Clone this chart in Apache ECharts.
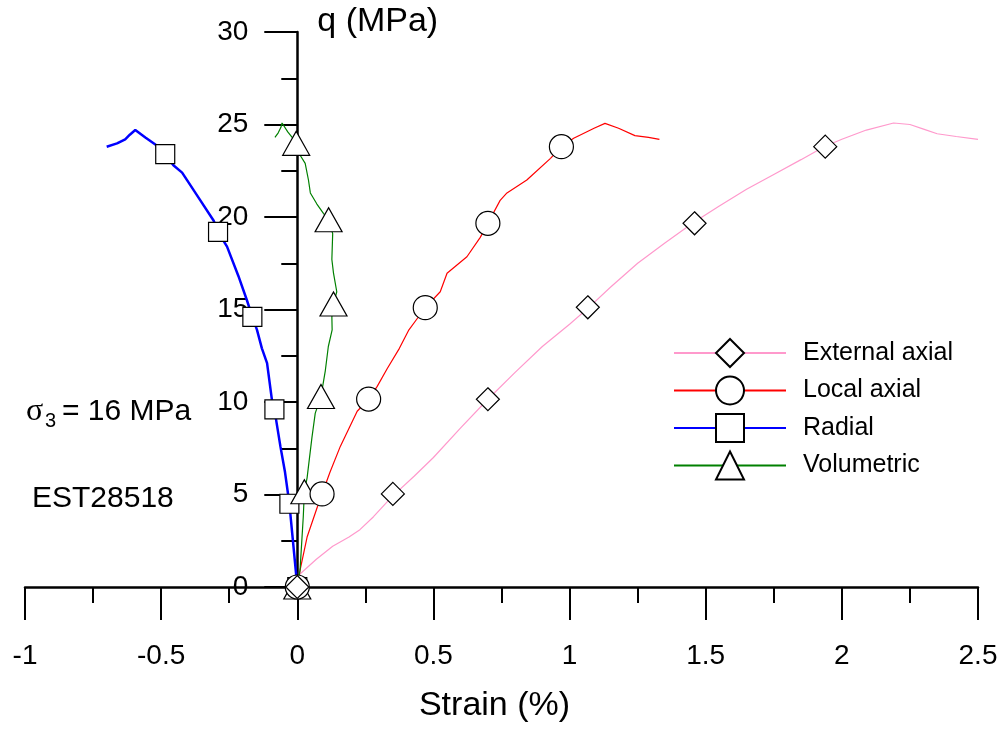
<!DOCTYPE html>
<html>
<head>
<meta charset="utf-8">
<script src="https://cdn.jsdelivr.net/npm/echarts@6.0.0/dist/echarts.min.js"></script>
<style>
  html, body { margin: 0; padding: 0; background: #ffffff; }
  #chart { width: 1005px; height: 731px; }
</style>
</head>
<body>
<div id="chart"></div>
<script>
// Deviatoric stress q (MPa) against strain (%) for sample EST28518, sigma3 = 16 MPa

const seriesNames = ['External axial', 'Local axial', 'Radial', 'Volumetric'];

// axis tick values
const xTicks = [-1, -0.5, 0, 0.5, 1, 1.5, 2, 2.5];
const yTicks = [0, 5, 10, 15, 20, 25, 30];

// measured curves: [strain %, q MPa]
const externalAxial = [
  [0, 0], [0.01, 0.7], [0.07, 1.5], [0.13, 2.2], [0.19, 2.7], [0.23, 3.1], [0.28, 3.8],
  [0.33, 4.6], [0.36, 5.05], [0.43, 6.0], [0.5, 7.0], [0.6, 8.6], [0.7, 10.15], [0.8, 11.6],
  [0.9, 13.0], [1.0, 14.2], [1.07, 15.1], [1.15, 16.2], [1.25, 17.5], [1.35, 18.6],
  [1.455, 19.7], [1.55, 20.6], [1.65, 21.5], [1.75, 22.3], [1.85, 23.1], [1.935, 23.8],
  [2.0, 24.2], [2.09, 24.7], [2.19, 25.08], [2.25, 25.0], [2.3, 24.75], [2.35, 24.5],
  [2.42, 24.35], [2.5, 24.2]
];
const localAxial = [
  [0, 0], [0.01, 0.9], [0.036, 2.7], [0.073, 4.3], [0.091, 5.03], [0.12, 6.2], [0.158, 7.6],
  [0.22, 9.5], [0.262, 10.16], [0.293, 10.83], [0.33, 11.8], [0.375, 12.9], [0.41, 13.9],
  [0.44, 14.5], [0.47, 15.1], [0.525, 15.96], [0.55, 16.96], [0.623, 17.85], [0.672, 18.9],
  [0.70, 19.66], [0.745, 20.9], [0.77, 21.3], [0.843, 22.0], [0.93, 23.17], [0.97, 23.8],
  [1.015, 24.26], [1.09, 24.8], [1.13, 25.06], [1.18, 24.8], [1.24, 24.4], [1.29, 24.3],
  [1.33, 24.2]
];
const radial = [
  [0, 0], [-0.005, 0.8], [-0.018, 2.8], [-0.029, 4.5], [-0.045, 6.2], [-0.062, 7.6],
  [-0.084, 9.6], [-0.093, 10.1], [-0.111, 12.1], [-0.13, 12.9], [-0.148, 13.9],
  [-0.165, 14.6], [-0.185, 15.5], [-0.216, 16.8], [-0.258, 18.4], [-0.291, 19.2],
  [-0.307, 19.8], [-0.356, 20.9], [-0.423, 22.4], [-0.455, 22.8], [-0.485, 23.4],
  [-0.52, 23.9], [-0.558, 24.3], [-0.595, 24.7], [-0.615, 24.45], [-0.632, 24.2],
  [-0.662, 23.98], [-0.70, 23.8]
];
const volumetric = [
  [0, 0], [0.01, 0.9], [0.022, 3.8], [0.026, 5.15], [0.036, 5.9], [0.054, 8.1], [0.066, 9.4],
  [0.087, 10.3], [0.103, 11.7], [0.114, 13.0], [0.128, 13.9], [0.127, 14.6], [0.133, 15.3],
  [0.145, 15.96], [0.133, 16.97], [0.127, 17.7], [0.13, 19.1], [0.115, 19.85], [0.096, 20.2],
  [0.072, 20.7], [0.048, 21.3], [0.041, 22.0], [0.029, 22.9], [0.01, 23.35], [-0.004, 23.98],
  [-0.013, 24.2], [-0.035, 24.6], [-0.056, 25.08], [-0.06, 24.85], [-0.07, 24.55], [-0.082, 24.3]
];

// marker positions along each curve
const externalAxialMarks = [[0, 0], [0.351, 5.03], [0.70, 10.15], [1.067, 15.12], [1.459, 19.66], [1.939, 23.8]];
const localAxialMarks = [[0, 0], [0.091, 5.03], [0.262, 10.16], [0.47, 15.1], [0.70, 19.66], [0.97, 23.8]];
const radialMarks = [[0, 0], [-0.029, 4.5], [-0.084, 9.6], [-0.165, 14.6], [-0.291, 19.2], [-0.485, 23.4]];
const volumetricMarks = [[0, 0], [0.026, 5.15], [0.087, 10.3], [0.133, 15.3], [0.115, 19.85], [-0.004, 23.98]];

const FONT = "'Liberation Sans', Arial, Helvetica, sans-serif";
const markerStyle = { color: '#ffffff', borderColor: '#000000', borderWidth: 1.2, opacity: 1 };

const curves = [
  { name: seriesNames[0], data: externalAxial, marks: externalAxialMarks, color: '#ff99cc', width: 1.2, symbol: 'diamond', size: 23 },
  { name: seriesNames[1], data: localAxial, marks: localAxialMarks, color: '#ff0000', width: 1.2, symbol: 'circle', size: 24 },
  { name: seriesNames[2], data: radial, marks: radialMarks, color: '#0000ff', width: 2.5, symbol: 'rect', size: 19 },
  { name: seriesNames[3], data: volumetric, marks: volumetricMarks, color: '#008000', width: 1.2, symbol: 'triangle', size: [27, 24] }
];

const series = [];
curves.forEach(c => {
  series.push({
    name: c.name,
    type: 'line',
    data: c.data,
    showSymbol: false,
    symbol: c.symbol,
    symbolSize: c.size,
    lineStyle: { color: c.color, width: c.width },
    itemStyle: markerStyle,
    z: 2,
    silent: true
  });
});
// markers drawn above every curve; origin stacking leaves the diamond on top
[2, 3, 1, 0].forEach(i => {
  const c = curves[i];
  series.push({
    name: c.name,
    type: 'scatter',
    data: c.marks,
    symbol: c.symbol,
    symbolSize: c.size,
    itemStyle: markerStyle,
    z: 3,
    silent: true
  });
});

// plot frame in pixels
const PLOT = { left: 25, right: 27, top: 32, bottom: 144 };
const plotWidth = 1005 - PLOT.left - PLOT.right;
const xMin = xTicks[0], xMax = xTicks[xTicks.length - 1];
// the q axis stands at strain = 0
const zeroX = PLOT.left + plotWidth * (0 - xMin) / (xMax - xMin);

const tickStyle = { color: '#000000', width: 2 };

const chart = echarts.init(document.getElementById('chart'), null, { renderer: 'canvas' });

chart.setOption({
  animation: false,
  backgroundColor: '#ffffff',
  grid: [
    { left: PLOT.left, right: PLOT.right, top: PLOT.top, bottom: PLOT.bottom, containLabel: false, outerBoundsMode: 'none' },
    { left: zeroX, right: PLOT.right, top: PLOT.top, bottom: PLOT.bottom, containLabel: false, outerBoundsMode: 'none' }
  ],
  legend: {
    data: seriesNames,
    orient: 'vertical',
    left: 673,
    top: 338,
    padding: 0,
    itemWidth: 112,
    itemHeight: 35,
    itemGap: 7.5,
    selectedMode: false,
    textStyle: { fontFamily: FONT, fontSize: 25, color: '#000000', padding: [0, 0, 0, 12] }
  },
  xAxis: [
    {
      gridIndex: 0,
      type: 'value',
      min: xMin,
      max: xMax,
      interval: xTicks[1] - xTicks[0],
      name: 'Strain (%)',
      nameLocation: 'middle',
      nameGap: 102,
      nameTextStyle: { fontFamily: FONT, fontSize: 34, color: '#000000', padding: [0, 14, 0, 0] },
      axisLine: { onZero: false, lineStyle: { color: '#000000', width: 2.5 } },
      axisTick: { show: true, inside: false, length: 33, lineStyle: tickStyle },
      minorTick: { show: true, splitNumber: 2, length: 16, lineStyle: tickStyle },
      axisLabel: { fontFamily: FONT, fontSize: 28, color: '#000000', margin: 55 },
      splitLine: { show: false },
      minorSplitLine: { show: false }
    },
    { gridIndex: 1, type: 'value', min: 0, max: 1, show: false }
  ],
  yAxis: [
    { gridIndex: 0, type: 'value', min: yTicks[0], max: yTicks[yTicks.length - 1], show: false },
    {
      gridIndex: 1,
      type: 'value',
      position: 'left',
      min: yTicks[0],
      max: yTicks[yTicks.length - 1],
      interval: yTicks[1] - yTicks[0],
      name: 'q (MPa)',
      nameLocation: 'end',
      nameGap: 10,
      nameTextStyle: { fontFamily: FONT, fontSize: 34, color: '#000000', align: 'left', verticalAlign: 'middle', padding: [0, 0, 0, 20] },
      axisLine: { show: true, onZero: false, lineStyle: { color: '#000000', width: 2.5 } },
      axisTick: { show: true, inside: false, length: 33, lineStyle: tickStyle },
      minorTick: { show: true, splitNumber: 2, length: 16, lineStyle: tickStyle },
      axisLabel: { fontFamily: FONT, fontSize: 28, color: '#000000', margin: 49 },
      splitLine: { show: false },
      minorSplitLine: { show: false }
    }
  ],
  graphic: [
    { type: 'text', left: 26, top: 396, silent: true,
      style: { text: 'σ', fontFamily: "'Liberation Serif', 'Times New Roman', serif", fontSize: 32, fill: '#000000' } },
    { type: 'text', left: 45, top: 411, silent: true,
      style: { text: '3', fontFamily: FONT, fontSize: 20, fill: '#000000' } },
    { type: 'text', left: 62, top: 397, silent: true,
      style: { text: '= 16 MPa', fontFamily: FONT, fontSize: 30, fill: '#000000' } },
    { type: 'text', left: 32, top: 484, silent: true,
      style: { text: 'EST28518', fontFamily: FONT, fontSize: 30, fill: '#000000' } }
  ],
  series: series
});
</script>
</body>
</html>
